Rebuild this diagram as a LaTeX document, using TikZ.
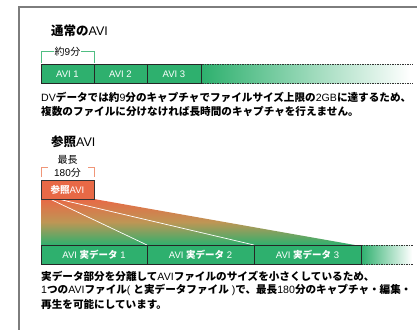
\documentclass[tikz,border=0pt]{standalone}
\usepackage{fontspec}
\setmainfont{Liberation Sans}
\newfontfamily\jp{Noto Sans CJK JP}
\newcommand{\J}[1]{{\jp\bfseries #1}}
\definecolor{gbar}{RGB}{46,176,110}
\definecolor{gbr}{RGB}{80,190,130}
\definecolor{obox}{RGB}{232,105,70}
\definecolor{obr}{RGB}{240,150,120}
\definecolor{tan}{RGB}{190,150,85}
\definecolor{framegray}{RGB}{125,125,125}
\tikzset{
  barbox/.style={draw=black!85, line width=0.6pt, fill=gbar},
  barlabel/.style={text=white, font=\fontsize{9.5}{11}\selectfont, inner sep=0pt},
  body/.style={anchor=west, inner sep=0pt, font=\fontsize{10.6}{12}\selectfont},
  title/.style={anchor=west, inner sep=0pt, font=\fontsize{12.5}{14}\selectfont},
  dashline/.style={line width=0.6pt, black!80, dash pattern=on 1.5pt off 1pt},
  brlabel/.style={fill=white, inner sep=1pt, font=\fontsize{10}{13}\selectfont, align=center}
}
\begin{document}
\begin{tikzpicture}[x=1pt,y=-1pt]
\useasboundingbox (0,0) rectangle (417,329);
% frame
\draw[framegray, line width=1.8pt] (19,330) -- (19,7) -- (418,7);

% ---------- section 1
\node[title] (t1) at (51,31) {\J{通常の}AVI};
\draw[gbr, line width=0.8pt] (41,63) -- (41,51) -- (94,51) -- (94,63);
\node[brlabel] (b1) at (67.5,52) {{\jp 約}9{\jp 分}};

\shade[left color=gbar, right color=white] (202,64) rectangle (410,83);
\draw[dashline] (202,64) -- (413,64);
\draw[dashline] (202,83) -- (413,83);
\draw[barbox] (41,64) rectangle (94,83);
\draw[barbox] (94,64) rectangle (147,83);
\draw[barbox] (147,64) rectangle (201,83);
\node[barlabel] (a1) at (67.5,74) {AVI 1};
\node[barlabel] (a2) at (120.5,74) {AVI 2};
\node[barlabel] (a3) at (174,74) {AVI 3};

\node[body] (p1) at (41,97) {DV\J{データでは約}9\J{分のキャプチャでファイルサイズ上限の}2GB\J{に達するため、}};
\node[body] (p2) at (41,111) {\J{複数のファイルに分けなければ長時間のキャプチャを行えません。}};

% ---------- section 2
\node[title] (t2) at (51,142) {\J{参照}AVI};
\draw[obr, line width=0.8pt] (41,177) -- (41,167) -- (94,167) -- (94,177);
\node[brlabel, minimum width=40pt] (b2) at (67.5,166) {{\jp 最長}\\180{\jp 分}};

% fan
\shade[top color=obox, bottom color=gbar, middle color=tan] (41,199) -- (94,199) -- (355,245) -- (41,245) -- cycle;
\draw[white, line width=0.7pt] (50,199) -- (147,245);
\draw[white, line width=0.7pt] (58,199) -- (254,245);

\node[draw=black!80, line width=0.6pt, fill=obox, minimum width=53pt, minimum height=19pt, inner sep=0pt, text=white, font=\fontsize{9.5}{11}\selectfont] (ref) at (67.5,189.5) {\J{参照}AVI};

\shade[left color=gbar, right color=white] (361,245) rectangle (412,264);
\draw[dashline] (361,245) -- (413,245);
\draw[dashline] (361,264) -- (413,264);
\draw[barbox] (41,245) rectangle (147,264);
\draw[barbox] (147,245) rectangle (254,264);
\draw[barbox] (254,245) rectangle (361,264);
\node[barlabel] (r1) at (94,255) {AVI \J{実データ} 1};
\node[barlabel] (r2) at (200.5,255) {AVI \J{実データ} 2};
\node[barlabel] (r3) at (307.5,255) {AVI \J{実データ} 3};

\node[body] (q1) at (41,276) {\J{実データ部分を分離して}AVI\J{ファイルのサイズを小さくしているため、}};
\node[body] (q2) at (41,290) {1\J{つの}AVI\J{ファイル}( \J{と実データファイル} )\J{で、最長}180\J{分のキャプチャ・編集・}};
\node[body] (q3) at (41,304) {\J{再生を可能にしています。}};
\end{tikzpicture}
\end{document}
